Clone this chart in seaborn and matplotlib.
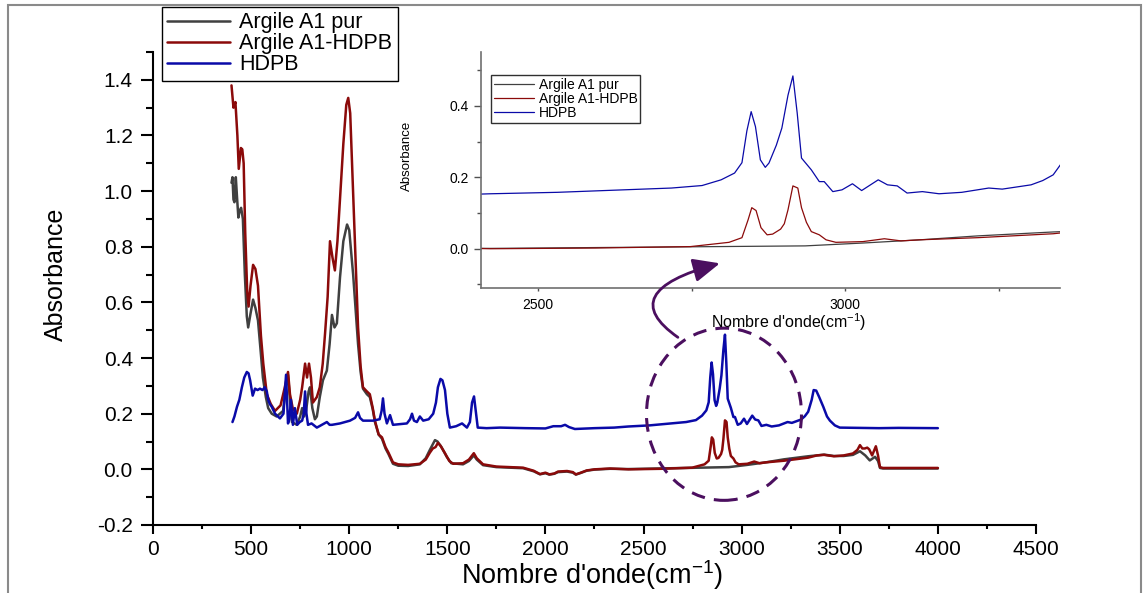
import matplotlib
matplotlib.use("Agg")
import matplotlib.pyplot as plt
import seaborn as sns
from matplotlib.patches import Ellipse, Rectangle
from matplotlib.ticker import MultipleLocator, FormatStrFormatter

# spectra: wavenumber (cm-1) / absorbance
pur_x = [400, 405, 410, 415, 422, 428, 435, 442, 449, 458, 468, 478, 485, 497, 510, 522, 535,
         548, 560, 575, 587, 605, 630, 663, 678, 688, 698, 708, 733, 750, 760, 770, 780, 793,
         800, 812, 825, 835, 850, 866, 886, 900, 912, 925, 937, 953, 970, 989, 1000, 1020,
         1033, 1045, 1058, 1070, 1090, 1105, 1120, 1131, 1150, 1167, 1185, 1200, 1223, 1250,
         1300, 1360, 1390, 1411, 1437, 1450, 1470, 1497, 1520, 1580, 1610, 1635, 1650, 1682,
         1750, 1886, 1940, 1972, 2000, 2020, 2045, 2064, 2110, 2140, 2155, 2180, 2210, 2250,
         2330, 2423, 2717, 2935, 3029, 3122, 3216, 3339, 3383, 3420, 3470, 3520, 3567, 3603,
         3630, 3653, 3680, 3695, 3705, 3720, 4000]
pur_y = [1.03, 1.05, 0.97, 0.96, 1.05, 0.98, 0.905, 0.93, 0.94, 0.90, 0.70, 0.55, 0.51, 0.56,
         0.61, 0.58, 0.535, 0.43, 0.33, 0.26, 0.22, 0.20, 0.19, 0.21, 0.30, 0.34, 0.25, 0.17,
         0.16, 0.19, 0.22, 0.19, 0.21, 0.28, 0.295, 0.22, 0.18, 0.19, 0.26, 0.32, 0.355, 0.45,
         0.555, 0.51, 0.525, 0.69, 0.82, 0.88, 0.86, 0.70, 0.57, 0.45, 0.35, 0.29, 0.27, 0.26,
         0.215, 0.17, 0.125, 0.11, 0.075, 0.055, 0.02, 0.013, 0.012, 0.018, 0.04, 0.07, 0.105,
         0.10, 0.08, 0.045, 0.022, 0.018, 0.03, 0.05, 0.035, 0.015, 0.008, 0.004, -0.007,
         -0.018, -0.014, -0.019, -0.016, -0.01, -0.008, -0.012, -0.019, -0.013, -0.005, -0.001,
         0.002, 0.001, 0.005, 0.008, 0.016, 0.025, 0.036, 0.047, 0.05, 0.053, 0.048, 0.048,
         0.052, 0.065, 0.05, 0.032, 0.045, 0.03, 0.005, 0.003, 0.003]

comp_x = [400, 410, 420, 430, 437, 448, 455, 462, 470, 480, 487, 497, 510, 522, 535, 550, 562,
          580, 600, 622, 650, 670, 688, 698, 712, 733, 750, 760, 775, 785, 795, 805, 815, 835,
          850, 865, 877, 890, 902, 915, 927, 940, 953, 970, 985, 995, 1005, 1020, 1035, 1045,
          1058, 1070, 1090, 1105, 1120, 1131, 1150, 1167, 1185, 1200, 1223, 1250, 1300, 1360,
          1390, 1411, 1426, 1440, 1452, 1465, 1488, 1510, 1530, 1580, 1610, 1635, 1650, 1682,
          1750, 1886, 1940, 1972, 2000, 2020, 2045, 2064, 2110, 2140, 2155, 2180, 2210, 2250,
          2330, 2423, 2593, 2748, 2811, 2832, 2842, 2848, 2855, 2863, 2873, 2882, 2895, 2901,
          2907, 2915, 2923, 2929, 2937, 2945, 2958, 2969, 2985, 3029, 3064, 3091, 3122, 3216,
          3339, 3383, 3420, 3470, 3520, 3567, 3590, 3603, 3615, 3628, 3640, 3650, 3665, 3684,
          3695, 3705, 3720, 4000]
comp_y = [1.38, 1.30, 1.32, 1.20, 1.08, 1.155, 1.15, 1.10, 0.85, 0.64, 0.585, 0.66, 0.735,
          0.72, 0.66, 0.48, 0.38, 0.27, 0.235, 0.21, 0.23, 0.29, 0.35, 0.27, 0.22, 0.20, 0.25,
          0.295, 0.38, 0.33, 0.38, 0.33, 0.24, 0.26, 0.295, 0.38, 0.49, 0.62, 0.82, 0.76, 0.715,
          0.82, 0.97, 1.17, 1.31, 1.335, 1.28, 0.99, 0.70, 0.51, 0.37, 0.295, 0.28, 0.27, 0.22,
          0.175, 0.125, 0.115, 0.08, 0.06, 0.025, 0.018, 0.016, 0.02, 0.035, 0.06, 0.075, 0.08,
          0.095, 0.085, 0.058, 0.03, 0.02, 0.022, 0.035, 0.058, 0.04, 0.018, 0.01, 0.006,
          -0.005, -0.017, -0.012, -0.018, -0.015, -0.008, -0.006, -0.01, -0.018, -0.012,
          -0.004, 0.0, 0.003, 0.0, 0.002, 0.006, 0.018, 0.031, 0.081, 0.115, 0.107, 0.059,
          0.039, 0.041, 0.055, 0.07, 0.109, 0.176, 0.17, 0.115, 0.074, 0.048, 0.039, 0.025,
          0.018, 0.02, 0.028, 0.022, 0.025, 0.031, 0.042, 0.05, 0.052, 0.047, 0.05, 0.057,
          0.07, 0.087, 0.075, 0.075, 0.078, 0.072, 0.05, 0.083, 0.05, 0.008, 0.005, 0.005]

hdpb_x = [405, 415, 428, 440, 453, 465, 478, 487, 495, 508, 520, 533, 545, 558, 570, 580, 587,
          595, 605, 622, 647, 665, 678, 688, 695, 703, 713, 723, 735, 748, 760, 768, 775, 782,
          790, 808, 835, 860, 886, 900, 912, 953, 1004, 1030, 1045, 1055, 1070, 1121, 1155,
          1165, 1172, 1180, 1192, 1208, 1223, 1294, 1310, 1320, 1330, 1345, 1360, 1377, 1405,
          1428, 1442, 1452, 1465, 1475, 1488, 1500, 1513, 1545, 1575, 1600, 1615, 1626, 1636,
          1645, 1655, 1700, 1768, 1900, 2000, 2040, 2080, 2100, 2120, 2150, 2250, 2350, 2423,
          2531, 2642, 2717, 2767, 2798, 2820, 2832, 2840, 2847, 2854, 2862, 2870, 2876, 2888,
          2897, 2907, 2915, 2922, 2929, 2945, 2958, 2966, 2980, 2995, 3012, 3027, 3054, 3069,
          3085, 3101, 3126, 3153, 3190, 3234, 3256, 3303, 3322, 3339, 3357, 3367, 3380, 3395,
          3416, 3435, 3450, 3475, 3500, 3700, 3800, 4000]
hdpb_y = [0.17, 0.19, 0.225, 0.25, 0.295, 0.33, 0.35, 0.345, 0.32, 0.265, 0.29, 0.285, 0.29,
          0.285, 0.295, 0.28, 0.25, 0.235, 0.225, 0.20, 0.183, 0.20, 0.34, 0.165, 0.18, 0.25,
          0.16, 0.22, 0.16, 0.17, 0.175, 0.20, 0.28, 0.20, 0.16, 0.165, 0.15, 0.16, 0.17, 0.16,
          0.16, 0.165, 0.175, 0.185, 0.205, 0.185, 0.175, 0.175, 0.18, 0.21, 0.255, 0.20, 0.165,
          0.195, 0.16, 0.165, 0.18, 0.20, 0.175, 0.17, 0.19, 0.175, 0.18, 0.20, 0.24, 0.295,
          0.325, 0.32, 0.285, 0.20, 0.15, 0.155, 0.165, 0.15, 0.17, 0.24, 0.262, 0.21, 0.15,
          0.148, 0.15, 0.148, 0.147, 0.155, 0.155, 0.16, 0.152, 0.145, 0.148, 0.15, 0.154,
          0.158, 0.165, 0.17, 0.177, 0.193, 0.212, 0.241, 0.33, 0.384, 0.342, 0.249, 0.228,
          0.24, 0.29, 0.338, 0.43, 0.484, 0.38, 0.254, 0.221, 0.188, 0.188, 0.16, 0.165, 0.182,
          0.163, 0.193, 0.179, 0.176, 0.156, 0.16, 0.154, 0.158, 0.17, 0.167, 0.179, 0.191,
          0.207, 0.25, 0.285, 0.283, 0.26, 0.225, 0.19, 0.175, 0.158, 0.15, 0.148, 0.149, 0.148]

labels = ["Argile A1 pur", "Argile A1-HDPB", "HDPB"]
colours = ["#404040", "#8b0a0a", "#0a0aa8"]
series = [(pur_x, pur_y), (comp_x, comp_y), (hdpb_x, hdpb_y)]

sns.set_theme(style="ticks", rc={"axes.edgecolor": "black", "text.color": "black",
                                 "xtick.color": "black", "ytick.color": "black",
                                 "axes.labelcolor": "black"})
plt.rcParams["font.family"] = ["Liberation Sans", "DejaVu Sans"]
plt.rcParams["mathtext.fontset"] = "custom"
plt.rcParams["mathtext.rm"] = "Liberation Sans"
plt.rcParams["mathtext.it"] = "Liberation Sans:italic"
plt.rcParams["axes.unicode_minus"] = False

fig = plt.figure(figsize=(11.47, 5.93), dpi=100)
ax = fig.add_axes([0.1334, 0.1147, 0.7698, 0.7976])

for (sx, sy), lab, col in zip(series, labels, colours):
    sns.lineplot(x=sx, y=sy, ax=ax, color=col, lw=1.8, label=lab, sort=False,
                 estimator=None, legend=False)

ax.set_xlim(0, 4500)
ax.set_ylim(-0.2, 1.5)
ax.xaxis.set_major_locator(MultipleLocator(500))
ax.xaxis.set_minor_locator(MultipleLocator(250))
ax.yaxis.set_major_locator(MultipleLocator(0.2))
ax.yaxis.set_minor_locator(MultipleLocator(0.1))
ax.yaxis.set_major_formatter(FormatStrFormatter("%.1f"))
sns.despine(ax=ax)
for s in ["left", "bottom"]:
    ax.spines[s].set_linewidth(1.5)
ax.tick_params(axis="y", which="major", length=8.5, width=1.5, labelsize=15, pad=6)
ax.tick_params(axis="y", which="minor", length=5, width=1.5)
ax.tick_params(axis="x", which="major", length=6.5, width=1.5, labelsize=15, pad=4)
ax.tick_params(axis="x", which="minor", length=3.2, width=1.5)
ax.set_ylabel("Absorbance", fontsize=18)
ax.set_xlabel(r"Nombre d'onde(cm$^{-1}$)", fontsize=19.5)
ax.yaxis.set_label_coords(-0.096, 0.53)
ax.xaxis.set_label_coords(0.497, -0.07)

ax.legend(loc="upper left", bbox_to_anchor=(0.1412, 0.988), bbox_transform=fig.transFigure,
          borderaxespad=0, fontsize=15.5, frameon=True, fancybox=False, edgecolor="black",
          framealpha=1, handlelength=2.9, handletextpad=0.45, labelspacing=0.0, borderpad=0.25)
ax.get_legend().get_frame().set_linewidth(1.0)

# dashed circle around the C-H region
ax.add_patch(Ellipse((2910, 0.198), 790, 0.619, fill=False, edgecolor="#4b0f5f",
                     lw=2.2, ls=(0, (4.5, 3)), zorder=5))

# zoomed inset
axin = fig.add_axes([0.4194, 0.5143, 0.5047, 0.398])
axin.patch.set_alpha(0)
for (sx, sy), lab, col in zip(series, labels, colours):
    sns.lineplot(x=sx, y=sy, ax=axin, color=col, lw=0.9, label=lab, sort=False,
                 estimator=None, legend=False)
axin.set_xlim(2407, 3350)
axin.set_ylim(-0.11, 0.551)
axin.xaxis.set_major_locator(MultipleLocator(500))
axin.xaxis.set_minor_locator(MultipleLocator(250))
axin.yaxis.set_major_locator(MultipleLocator(0.2))
axin.yaxis.set_minor_locator(MultipleLocator(0.1))
axin.yaxis.set_major_formatter(FormatStrFormatter("%.1f"))
sns.despine(ax=axin)
for s in ["left", "bottom"]:
    axin.spines[s].set_color("#707070")
    axin.spines[s].set_linewidth(1.2)
axin.tick_params(axis="both", which="major", labelsize=10, color="#505050", width=1.0)
axin.tick_params(axis="y", which="major", length=5, pad=4)
axin.tick_params(axis="y", which="minor", length=3, color="#505050")
axin.tick_params(axis="x", which="major", length=2.5, pad=5)
axin.tick_params(axis="x", which="minor", length=2, color="#505050")
axin.set_ylabel("Absorbance", fontsize=9.5)
axin.set_xlabel(r"Nombre d'onde(cm$^{-1}$)", fontsize=11.5)
axin.yaxis.set_label_coords(-0.117, 0.56)
axin.xaxis.set_label_coords(0.532, -0.097)
axin.legend(loc="upper left", bbox_to_anchor=(0.428, 0.8735), bbox_transform=fig.transFigure,
            borderaxespad=0, fontsize=10, frameon=True, fancybox=False, edgecolor="#303030",
            framealpha=1, handlelength=2.9, handletextpad=0.35, labelspacing=0.0, borderpad=0.2)
axin.get_legend().get_frame().set_linewidth(1.0)

# curved arrow from the circle up to the inset
axin.annotate("", xy=(2889, 0.7405), xycoords=ax.transData,
              xytext=(2675, 0.4745), textcoords=ax.transData, annotation_clip=False,
              arrowprops=dict(arrowstyle="-|>,head_length=0.9,head_width=0.4",
                              connectionstyle="angle3,angleA=145,angleB=15",
                              color="#4b0f5f", lw=2.0, shrinkA=0, shrinkB=0,
                              mutation_scale=18))

# frame around the picture
fig.patches.append(Rectangle((8 / 1147, -0.05), 1133 / 1147, 1.05 - 5 / 593, fill=False,
                             edgecolor="#8a8a8a", lw=1.5, transform=fig.transFigure,
                             figure=fig))

fig.savefig("out.png", dpi=100)
